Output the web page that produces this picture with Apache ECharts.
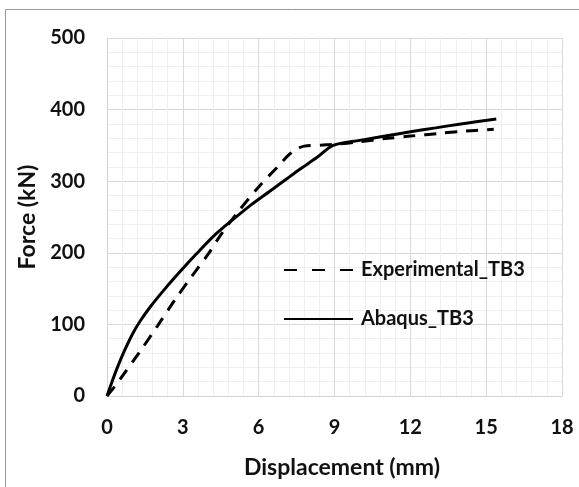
<!DOCTYPE html>
<html>
<head>
<meta charset="utf-8">
<script src="https://cdn.jsdelivr.net/npm/echarts@6/dist/echarts.min.js"></script>
<style>
html,body{margin:0;padding:0;background:#fff;}
#c{width:579px;height:487px;}
</style>
</head>
<body>
<div id="c"></div>
<script>
// Experimental_TB3 : [displacement (mm), force (kN)]
const experimental = [
  [0,0],[0.3,13],[0.65,30],[1.3,62],[2.0,98],[2.7,135],[3.35,167],[4.0,198],[4.5,225],
  [5.2,258],[6.0,292],[6.8,322],[7.2,337],[7.5,345],[7.8,349],[8.5,350.5],[9.0,351.5],
  [10,355],[11,359.5],[12,363],[13.2,367],[14,369.5],[15.3,372.5]
];
// Abaqus_TB3
const abaqus = [
  [0,0],[0.2,20],[0.4,39],[0.7,64],[1.0,86],[1.3,104],[1.7,124],[2.3,150],[3.0,178],
  [3.55,199],[4.3,226],[5.0,247],[5.7,267],[6.4,285],[7.1,303],[7.6,316],[8.3,333],
  [8.95,350],[10,357],[11,363],[12,369],[13,374.5],[14,380],[15.4,387]
];
const xTicks = [0,3,6,9,12,15,18];
const yTicks = [0,100,200,300,400,500];
const seriesNames = ['Experimental_TB3','Abaqus_TB3'];

const FONT = 'Lato';
const TXT = '#111';
const chart = echarts.init(document.getElementById('c'), null, {renderer:'canvas'});
chart.setOption({
  animation:false,
  backgroundColor:'#fff',
  graphic:[{
    type:'rect', left:3, top:7, z:-10,
    shape:{x:0,y:0,width:620,height:520},
    style:{fill:'none', stroke:'#999', lineWidth:1}
  }],
  grid:{left:107, right:17, top:38, bottom:91, containLabel:false},
  legend:{
    orient:'vertical', left:278, top:255,
    itemWidth:69, itemHeight:14, itemGap:29,
    itemStyle:{opacity:0},
    textStyle:{fontFamily:FONT, fontWeight:'bold', fontSize:20, color:TXT, padding:[0,0,0,3]},
    data:[
      {name:seriesNames[0], lineStyle:{type:[13,15]}},
      {name:seriesNames[1]}
    ]
  },
  xAxis:{
    type:'value', min:xTicks[0], max:xTicks[xTicks.length-1], interval:3,
    name:'Displacement (mm)', nameLocation:'middle', nameGap:60,
    nameTextStyle:{fontFamily:FONT, fontWeight:'bold', fontSize:23, color:TXT, padding:[0,0,0,15]},
    axisLine:{show:true, lineStyle:{color:'#d4d4d4', width:1}},
    axisTick:{show:false},
    axisLabel:{fontFamily:FONT, fontWeight:'bold', fontSize:20, color:TXT, margin:22},
    splitLine:{show:true, lineStyle:{color:'#d9d9d9', width:1}},
    minorTick:{show:false, splitNumber:5},
    minorSplitLine:{show:true, lineStyle:{color:'#efefef', width:1}}
  },
  yAxis:{
    type:'value', min:yTicks[0], max:yTicks[yTicks.length-1], interval:100,
    name:'Force (kN)', nameLocation:'middle', nameGap:68,
    nameTextStyle:{fontFamily:FONT, fontWeight:'bold', fontSize:23, color:TXT},
    axisLine:{show:true, lineStyle:{color:'#d4d4d4', width:1}},
    axisTick:{show:false},
    axisLabel:{fontFamily:FONT, fontWeight:'bold', fontSize:20, color:TXT, margin:22},
    splitLine:{show:true, lineStyle:{color:'#d9d9d9', width:1}},
    minorTick:{show:false, splitNumber:5},
    minorSplitLine:{show:true, lineStyle:{color:'#efefef', width:1}}
  },
  series:[
    {name:seriesNames[0], type:'line', data:experimental, symbol:'none', smooth:0.3,
     lineStyle:{color:'#000', width:3, type:[12,9]}, itemStyle:{color:'#000'}},
    {name:seriesNames[1], type:'line', data:abaqus, symbol:'none', smooth:0.3,
     lineStyle:{color:'#000', width:3, type:'solid'}, itemStyle:{color:'#000'}}
  ]
});
</script>
</body>
</html>
